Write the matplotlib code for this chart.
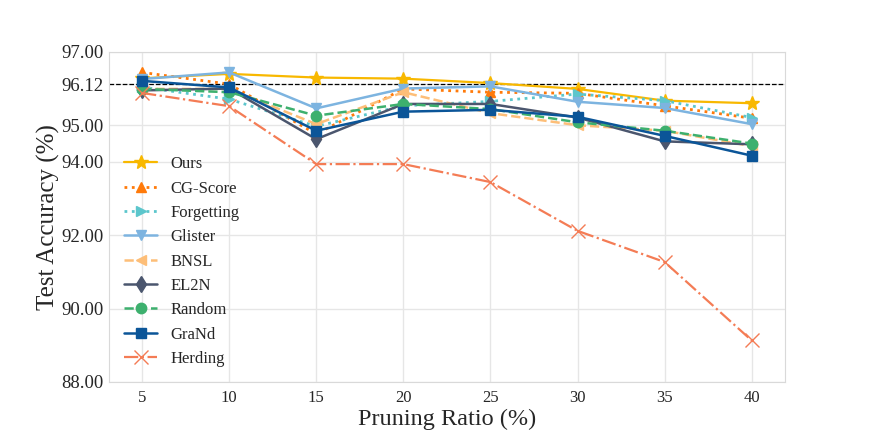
import numpy as np
import matplotlib
matplotlib.use('Agg')
from matplotlib import pyplot as plt
import seaborn as sns

sns.set_style('whitegrid')
plt.rcParams['font.family'] = ['Liberation Serif', 'DejaVu Serif']

ratios = [5, 10, 15, 20, 25, 30, 35, 40]

ours = [96.28, 96.40, 96.30, 96.27, 96.15, 95.99, 95.67, 95.60]
cg_score = [96.44, 96.12, 94.76, 95.99, 95.90, 95.87, 95.53, 95.19]
forgetting = [96.04, 95.71, 94.97, 95.53, 95.65, 95.85, 95.67, 95.21]
glister = [96.26, 96.44, 95.46, 96.00, 96.06, 95.64, 95.47, 95.03]
bnsl = [95.99, 95.99, 95.03, 95.90, 95.33, 95.00, 94.85, 94.43]
el2n = [95.95, 96.00, 94.62, 95.58, 95.58, 95.21, 94.56, 94.48]
random_ = [95.99, 95.90, 95.26, 95.58, 95.44, 95.08, 94.85, 94.50]
grand = [96.21, 96.03, 94.85, 95.37, 95.42, 95.23, 94.71, 94.17]
herding = [95.88, 95.52, 93.94, 93.94, 93.45, 92.12, 91.27, 89.13]

full_acc = 96.12
yticks = [88, 90, 92, 94, 95, 96.12, 97]

fig, ax = plt.subplots(figsize=(8.72, 4.36), dpi=100)
fig.subplots_adjust(left=0.125, right=0.9, bottom=0.124, top=0.881)

ax.axhline(full_acc, color='black', linestyle='--', linewidth=0.9, zorder=1)

ax.plot(ratios, ours, color='#F8B800', linestyle='-', marker='*', markersize=10, linewidth=1.6, label='Ours')
ax.plot(ratios, cg_score, color='#FF7A0A', linestyle=':', marker='^', markersize=7.5, linewidth=2, label='CG-Score')
ax.plot(ratios, forgetting, color='#5CC6CC', linestyle=':', marker='>', markersize=7.5, linewidth=2, label='Forgetting')
ax.plot(ratios, glister, color='#7DB4E0', linestyle='-', marker='v', markersize=7.5, linewidth=1.8, label='Glister')
ax.plot(ratios, bnsl, color='#FDBE78', linestyle='--', marker='<', markersize=7.5, linewidth=1.8, label='BNSL')
ax.plot(ratios, el2n, color='#4B566E', linestyle='-', marker='d', markersize=8, linewidth=1.8, label='EL2N')
ax.plot(ratios, random_, color='#3DB06E', linestyle='--', marker='o', markersize=7.5, linewidth=1.8, label='Random')
ax.plot(ratios, grand, color='#0B5598', linestyle='-', marker='s', markersize=7, linewidth=1.8, label='GraNd')
ax.plot(ratios, herding, color='#F47C55', linestyle='-.', marker='x', markersize=10, linewidth=1.6, label='Herding')

ax.set_xlim(3.1, 41.9)
ax.set_ylim(88, 97)
ax.set_xticks(ratios)
ax.set_yticks(yticks)
ax.set_yticklabels(['%.2f' % v for v in yticks])
ax.tick_params(axis='y', labelsize=13.5, pad=0.5)
ax.tick_params(axis='x', labelsize=12, pad=2)
ax.grid(color='#e6e6e6', linewidth=1)
for s in ax.spines.values():
    s.set_color('#d9d9d9')

ax.set_xlabel('Pruning Ratio (%)', fontsize=17.5, labelpad=2)
ax.set_ylabel('Test Accuracy (%)', fontsize=18, labelpad=1)

ax.legend(loc='lower left', frameon=False, fontsize=12, labelspacing=0.5)

plt.savefig('out.png', dpi=100)
